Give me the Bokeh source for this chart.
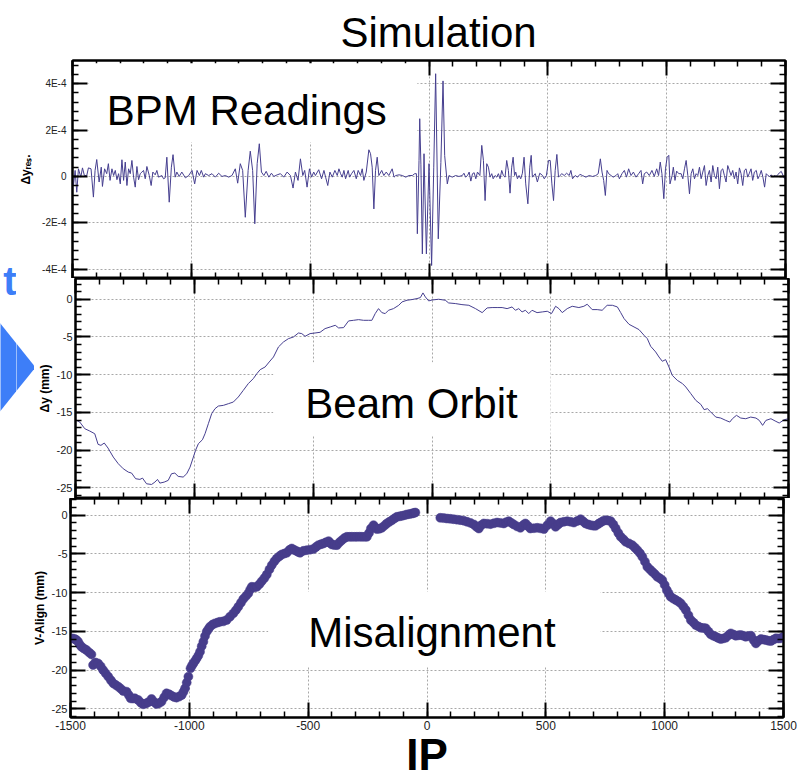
from bokeh.plotting import figure
from bokeh.layouts import column, row
from bokeh.models import (Range1d, LinearAxis, SingleIntervalTicker, BoxAnnotation, Label,
                          PolyAnnotation, CustomJSTickFormatter, PrintfTickFormatter)
from bokeh.embed import file_html
from bokeh.resources import INLINE

FONT = "Liberation Sans"
LINE_COLOR = "#463f8f"
DOT_COLOR = "#473d8b"
ACCENT = "#3d7ef8"

# ---------------- data ----------------
# Panel 1: BPM readings, residual dy in units of 1E-4
bpm_x = [
    -1500, -1496, -1489, -1482, -1475, -1465, -1458, -1450, -1440, -1433,
    -1422, -1412, -1405, -1398, -1388, -1379, -1374, -1365, -1356, -1349,
    -1342, -1334, -1327, -1320, -1313, -1306, -1299, -1292, -1285, -1278,
    -1271, -1264, -1257, -1250, -1243, -1236, -1229, -1222, -1215, -1208,
    -1201, -1194, -1187, -1177, -1169, -1162, -1152, -1145, -1138, -1124,
    -1117, -1110, -1103, -1093, -1084, -1077, -1068, -1061, -1051, -1040,
    -1025, -1011, -997, -986, -976, -966, -958, -948, -941, -927,
    -913, -899, -885, -871, -857, -843, -829, -815, -805, -794,
    -784, -773, -761, -752, -742, -733, -723, -714, -705, -695,
    -685, -674, -663, -653, -639, -625, -611, -597, -583, -572,
    -562, -551, -541, -531, -523, -513, -503, -494, -485, -478,
    -464, -452, -442, -435, -426, -417, -407, -396, -386, -379,
    -372, -365, -358, -351, -340, -334, -326, -316, -306, -298,
    -288, -281, -274, -264, -253, -246, -239, -232, -225, -218,
    -211, -199, -190, -180, -169, -155, -147, -140, -126, -112,
    -98, -84, -70, -60, -53, -49, -42, -39, -34, -28,
    -21, -11, 0, 11, 20, 28, 39, 50, 59, 66,
    77, 84, 98, 112, 126, 140, 147, 154, 162, 169,
    176, 183, 190, 197, 204, 214, 222, 229, 236, 243,
    250, 257, 264, 270, 278, 285, 292, 299, 306, 313,
    320, 327, 334, 341, 348, 354, 360, 365, 372, 379,
    386, 393, 400, 407, 416, 424, 430, 435, 447, 456,
    466, 478, 485, 494, 503, 510, 517, 524, 531, 538,
    545, 551, 559, 569, 579, 590, 597, 604, 615, 625,
    635, 646, 660, 674, 688, 702, 712, 721, 728, 735,
    742, 749, 756, 766, 775, 787, 794, 801, 812, 822,
    831, 840, 850, 860, 871, 882, 892, 899, 906, 916,
    927, 938, 948, 958, 966, 973, 980, 988, 995, 1002,
    1009, 1014, 1023, 1028, 1035, 1042, 1051, 1061, 1068, 1075,
    1082, 1089, 1096, 1103, 1110, 1117, 1124, 1131, 1138, 1145,
    1152, 1159, 1166, 1173, 1180, 1187, 1194, 1201, 1208, 1215,
    1222, 1229, 1236, 1243, 1250, 1257, 1264, 1271, 1278, 1285,
    1292, 1299, 1306, 1313, 1320, 1327, 1334, 1341, 1348, 1355,
    1362, 1369, 1377, 1384, 1391, 1398, 1405, 1412, 1419, 1426,
    1433, 1440, 1447, 1454, 1461, 1468, 1482, 1496, 1500,
]
bpm_dy_e4 = [
    0.0, -0.39, 0.26, -0.68, 0.33, -0.03, 0.37, 0.04, 0.04, 0.37,
    0.33, -0.89, 0.26, 0.73, -0.24, 0.40, -0.43, 0.33, 0.12, 0.55,
    -0.17, 0.33, 0.04, 0.26, -0.14, 0.12, -0.32, 0.72, -0.17, 0.62,
    -0.39, 0.33, 0.12, 0.69, -0.03, -0.46, 0.43, -0.14, 0.12, 0.19,
    0.26, -0.10, 0.43, 0.04, -0.39, 0.19, 0.07, 0.26, -0.03, 0.04,
    -0.10, -0.06, 0.83, -1.11, 0.40, 0.94, -0.03, 0.19, 0.0, 0.19,
    -0.06, 0.04, 0.26, -0.32, 0.26, 0.04, 0.26, -0.03, 0.12, 0.04,
    0.12, -0.03, 0.14, 0.0, 0.04, -0.03, 0.04, 0.33, -0.29, 0.55,
    0.26, -1.76, 0.26, 1.09, 0.26, -2.04, 0.55, 1.41, 0.19, 0.04,
    0.22, -0.03, 0.14, 0.0, 0.07, 0.12, -0.03, 0.19, 0.04, -0.50,
    0.19, -0.17, 0.76, 0.04, 0.26, -0.46, 0.33, -0.03, 0.19, 0.04,
    0.29, -0.10, 0.26, -0.03, -0.39, 0.19, -0.03, 0.26, 0.04, 0.33,
    0.12, -0.03, 0.26, -0.10, 0.26, -0.03, 0.12, 0.26, -0.10, 0.26,
    0.04, 0.33, -0.17, 0.19, 1.15, 0.98, 0.40, -1.40, 0.26, 0.83,
    0.04, 0.26, 0.04, 0.19, 0.04, 0.33, -0.03, 0.04, 0.07, 0.04,
    -0.03, 0.04, 0.04, 0.12, 0.12, -2.47, 0.69, 2.49, 0.5, -3.34,
    0.98, -3.34, 0.55, -3.84, 0.4, 4.43, -2.69, 0.6, 4.12, 0.9,
    -0.32, 0.04, -0.03, 0.04, 0.0, 0.04, 0.14, -0.03, 0.04, 0.19,
    -0.20, 0.12, 0.16, -0.10, 0.19, 0.04, 1.34, 0.69, -1.04, 0.55,
    0.40, -0.03, 0.12, -0.10, 0.04, -0.03, 0.12, -0.10, 0.26, 0.04,
    -0.03, 0.69, 0.26, -0.72, 0.40, 0.83, 0.04, 0.19, -0.10, 0.04,
    -0.10, 0.14, 0.83, -0.32, -1.18, 0.40, 0.91, -0.03, 0.12, -0.24,
    0.14, 0.04, -0.10, 0.04, 0.69, 0.69, -0.32, -1.04, 0.26, 0.95,
    -0.03, 0.04, 0.12, 0.04, 0.14, 0.04, 0.26, -0.10, 0.04, -0.03,
    0.09, 0.04, -0.03, 0.04, 0.0, 0.04, 0.12, 0.76, 0.19, -0.17,
    -0.82, 0.26, 0.12, 0.04, -0.03, 0.04, 0.12, -0.10, 0.12, 0.26,
    -0.03, 0.33, 0.04, 0.19, -0.03, 0.12, 0.26, -0.32, 0.12, 0.19,
    0.04, 0.26, 0.0, 0.33, 0.04, 0.62, 0.12, -0.96, 0.33, 0.83,
    0.91, -0.32, 0.04, 0.40, -0.17, 0.23, 0.12, 0.12, -0.10, 0.33,
    0.69, 0.04, -0.75, 0.12, 0.33, -0.10, 0.12, 0.04, 0.40, -0.10,
    0.19, 0.47, -0.39, 0.04, 0.26, -0.24, 0.47, 0.04, -0.10, 0.40,
    -0.53, 0.26, 0.33, 0.04, -0.24, 0.47, 0.26, 0.04, 0.26, -0.10,
    0.19, -0.32, 0.37, 0.12, -0.39, 0.26, 0.33, -0.03, 0.14, 0.33,
    -0.17, 0.19, 0.26, -0.10, 0.04, 0.26, -0.03, -0.46, 0.12, 0.04,
    0.0, 0.07, -0.03, 0.04, 0.0, 0.09, 0.22, -0.10, 0.04,
]
bpm_tick_values = [-4, -2, 0, 2, 4]
bpm_tick_labels = ["-4E-4", "-2E-4", "0", "2E-4", "4E-4"]

# Panel 2: beam orbit dy (mm)
orbit_x = [
    -1500, -1482, -1461, -1440, -1419, -1405, -1393, -1379, -1363, -1341,
    -1320, -1299, -1278, -1264, -1247, -1229, -1218, -1201, -1180, -1166,
    -1155, -1145, -1127, -1110, -1096, -1082, -1068, -1047, -1032, -1018,
    -1004, -995, -983, -966, -955, -941, -927, -913, -899, -878,
    -857, -836, -815, -794, -773, -752, -737, -723, -702, -685,
    -667, -646, -625, -604, -583, -562, -548, -534, -513, -492,
    -471, -450, -428, -407, -393, -372, -351, -330, -309, -288,
    -267, -253, -239, -225, -211, -197, -183, -162, -140, -126,
    -105, -84, -63, -49, -38, -28, -14, 0, 28, 56,
    70, 98, 126, 155, 183, 211, 232, 253, 274, 295,
    316, 337, 351, 365, 379, 393, 407, 421, 442, 464,
    485, 503, 520, 534, 548, 569, 590, 618, 639, 653,
    674, 695, 716, 737, 759, 780, 794, 808, 829, 850,
    871, 892, 906, 920, 941, 955, 969, 983, 997, 1011,
    1032, 1054, 1068, 1089, 1110, 1131, 1145, 1159, 1173, 1194,
    1215, 1236, 1253, 1264, 1281, 1299, 1320, 1341, 1363, 1377,
    1391, 1405, 1426, 1447, 1461, 1482, 1500,
]
orbit_dy = [
    -15.96, -16.27, -17.15, -17.46, -17.82, -19.23, -19.36, -19.05, -19.72, -20.91,
    -21.79, -22.46, -22.9, -23.03, -23.78, -23.87, -23.7, -24.45, -24.54, -24.23,
    -23.87, -24.36, -24.23, -24.0, -23.12, -23.03, -23.47, -23.56, -23.12, -22.24,
    -20.91, -20.03, -19.14, -18.62, -17.82, -16.49, -15.16, -14.5, -14.15, -14.06,
    -13.84, -13.62, -12.95, -12.07, -11.18, -10.52, -9.86, -9.33, -8.97, -8.31,
    -7.65, -6.32, -5.66, -5.22, -5.0, -4.47, -4.55, -4.91, -4.55, -4.47,
    -4.38, -3.89, -3.67, -3.45, -3.8, -3.76, -2.87, -2.79, -2.70, -2.79,
    -2.79, -2.79, -1.9, -1.24, -1.77, -1.9, -1.46, -1.24, -0.8, -0.35,
    -0.13, -0.04, 0.09, 0.22, 0.84, 0.31, -0.22, -0.1, 0.0, -0.13,
    -0.49, -0.57, -0.71, -0.8, -1.24, -1.77, -1.15, -1.1, -1.1, -1.1,
    -1.24, -1.02, -1.46, -1.24, -1.68, -1.46, -1.9, -1.46, -1.77, -1.68,
    -1.59, -1.9, -0.93, -1.24, -1.77, -1.24, -0.93, -1.1, -0.93, -0.66,
    -1.37, -1.37, -1.46, -0.8, -0.8, -1.02, -1.77, -2.56, -3.32, -3.67,
    -4.02, -4.77, -5.22, -6.23, -6.98, -7.65, -8.22, -8.0, -8.97, -10.08,
    -10.74, -11.18, -11.63, -12.51, -13.4, -13.93, -14.63, -14.5, -14.94, -15.61,
    -15.74, -16.05, -16.27, -15.83, -15.38, -15.74, -15.83, -15.61, -15.74, -16.05,
    -16.71, -16.05, -15.83, -16.18, -16.4, -15.96, -15.83,
]

# Panel 3: vertical misalignment (mm)
align_x = [
    -1500, -1491, -1482, -1475, -1468, -1461, -1454, -1444, -1433, -1422,
    -1412, -1405, -1395, -1384, -1373, -1363, -1352, -1341, -1330, -1320,
    -1310, -1299, -1288, -1278, -1264, -1255, -1247, -1238, -1229, -1215,
    -1204, -1194, -1183, -1173, -1159, -1148, -1138, -1127, -1117, -1106,
    -1096, -1085, -1075, -1064, -1054, -1043, -1032, -1025, -1018, -1011,
    -1004, -995, -989, -983, -976, -969, -962, -955, -948, -941,
    -934, -927, -920, -913, -902, -892, -881, -871, -857, -843,
    -829, -815, -804, -794, -783, -773, -762, -752, -744, -737,
    -726, -716, -705, -695, -684, -674, -663, -653, -642, -632,
    -621, -611, -600, -590, -579, -569, -558, -548, -541, -534,
    -520, -506, -492, -478, -467, -457, -446, -436, -425, -414,
    -407, -400, -390, -379, -368, -358, -347, -337, -326, -316,
    -305, -295, -284, -274, -263, -253, -244, -236, -225, -218,
    -211, -200, -190, -179, -169, -158, -147, -136, -126, -115,
    -105, -94, -84, -73, -63, -56, -49, 56, 70, 84,
    98, 112, 126, 140, 155, 169, 183, 197, 208, 218,
    228, 239, 253, 267, 281, 295, 309, 323, 333, 344,
    355, 365, 379, 393, 404, 414, 425, 435, 450, 464,
    478, 492, 506, 520, 531, 541, 552, 562, 576, 590,
    604, 618, 632, 646, 657, 667, 678, 688, 699, 709,
    720, 730, 741, 752, 763, 773, 784, 794, 805, 815,
    826, 836, 850, 864, 875, 885, 896, 906, 917, 927,
    938, 948, 959, 969, 980, 990, 1000, 1009, 1017, 1025,
    1036, 1047, 1058, 1068, 1079, 1089, 1100, 1110, 1121, 1131,
    1142, 1152, 1163, 1173, 1184, 1194, 1205, 1215, 1226, 1236,
    1247, 1257, 1268, 1278, 1289, 1299, 1310, 1320, 1331, 1341,
    1352, 1363, 1374, 1384, 1395, 1405, 1416, 1426, 1437, 1447,
    1458, 1468, 1479, 1489, 1500,
]
align_dy = [
    -15.89, -15.9, -15.98, -16.1, -16.32, -16.7, -16.97, -17.2, -17.4, -17.7,
    -17.96, -19.33, -19.0, -19.12, -19.5, -19.97, -20.4, -20.83, -21.3, -21.69,
    -21.9, -22.12, -22.4, -22.68, -22.77, -23.2, -23.63, -23.65, -23.63, -23.84,
    -24.2, -24.4, -24.3, -24.14, -23.71, -24.1, -24.36, -24.25, -24.05, -23.5,
    -22.98, -23.1, -23.28, -23.45, -23.54, -23.4, -23.2, -22.8, -22.34, -21.6,
    -20.83, -19.76, -19.4, -19.12, -18.8, -18.47, -18.1, -17.61, -16.9, -16.32,
    -15.6, -15.03, -14.7, -14.39, -14.1, -13.96, -13.85, -13.75, -13.7, -13.53,
    -13.1, -12.67, -12.25, -11.81, -11.3, -10.82, -10.45, -10.09, -9.6, -9.24,
    -9.3, -9.24, -8.9, -8.51, -8.1, -7.65, -7.0, -6.44, -5.95, -5.58,
    -5.3, -5.07, -4.95, -4.85, -4.5, -4.3, -4.5, -4.64, -4.75, -4.85,
    -4.6, -4.51, -4.45, -4.38, -4.1, -3.87, -3.75, -3.65, -3.5, -3.35,
    -3.6, -3.78, -3.85, -3.87, -3.5, -3.22, -2.95, -2.79, -2.8, -2.79,
    -2.8, -2.79, -2.78, -2.79, -2.8, -2.79, -2.3, -1.72, -1.29, -1.6,
    -1.8, -1.75, -1.63, -1.35, -1.07, -0.85, -0.64, -0.4, -0.21, -0.15,
    -0.09, 0.0, 0.09, 0.15, 0.21, 0.28, 0.34, -0.34, -0.38, -0.43,
    -0.47, -0.52, -0.58, -0.64, -0.72, -0.86, -1.0, -1.2, -1.5, -1.72,
    -1.3, -1.07, -1.1, -1.16, -1.05, -0.95, -1.0, -1.07, -0.9, -0.77,
    -1.0, -1.2, -1.45, -1.63, -1.3, -1.07, -1.4, -1.72, -1.68, -1.63,
    -1.7, -1.8, -1.3, -0.77, -1.1, -1.5, -1.2, -0.95, -0.85, -0.77,
    -0.85, -0.95, -0.75, -0.52, -0.8, -1.07, -1.2, -1.29, -1.35, -1.37,
    -1.15, -0.95, -0.75, -0.64, -0.7, -0.77, -1.2, -1.72, -2.3, -2.79,
    -3.1, -3.44, -3.65, -3.87, -4.2, -4.51, -4.9, -5.37, -6.0, -6.66,
    -7.0, -7.3, -7.6, -7.95, -8.15, -8.38, -9.0, -9.66, -10.1, -10.52,
    -10.75, -10.95, -11.15, -11.38, -11.8, -12.24, -12.9, -13.53, -13.85, -14.18,
    -14.35, -14.52, -14.55, -14.6, -15.0, -15.38, -15.55, -15.68, -15.85, -15.98,
    -15.9, -15.81, -15.5, -15.25, -15.4, -15.55, -15.5, -15.46, -15.55, -15.68,
    -15.6, -15.55, -16.1, -16.54, -16.2, -15.98, -16.05, -16.11, -16.2, -16.24,
    -16.05, -15.89, -15.9, -15.89, -15.68,
]

X_RANGE = (-1500, 1500)
X_MAJOR = 500


# ---------------- helpers ----------------
def ticker(interval):
    return SingleIntervalTicker(interval=interval, num_minor_ticks=5)


def style_axis(ax, show_labels, label_size="11px", standoff=4):
    ax.axis_line_color = "black"
    ax.axis_line_width = 2
    ax.major_tick_in = 15
    ax.major_tick_out = 0
    ax.minor_tick_in = 6
    ax.minor_tick_out = 0
    ax.major_tick_line_color = "black"
    ax.major_tick_line_width = 2
    ax.minor_tick_line_color = "black"
    ax.minor_tick_line_width = 1.5
    ax.major_label_text_font = FONT
    ax.major_label_text_color = "#222222"
    if show_labels:
        ax.formatter = PrintfTickFormatter(format="%d")
        ax.major_label_text_font_size = label_size
        ax.major_label_standoff = standoff
    else:
        ax.formatter = CustomJSTickFormatter(code="return ''")
        ax.major_label_text_font_size = "0px"
        ax.major_label_standoff = 0


def make_panel(y_range, frame_h, top, bottom, left, y_int, y_label, y_label_size,
               tick_standoff, label_standoff, show_x_labels, title=None):
    p = figure(width=left + 713 + 17, height=top + frame_h + bottom,
               frame_width=713, frame_height=frame_h,
               x_range=Range1d(*X_RANGE), y_range=Range1d(*y_range), title=title,
               toolbar_location=None, output_backend="svg",
               min_border_left=left, min_border_right=17,
               min_border_top=top, min_border_bottom=bottom)
    p.outline_line_color = "black"
    p.outline_line_width = 2
    p.background_fill_color = "white"
    p.border_fill_color = "white"

    xt = ticker(X_MAJOR)
    yt = ticker(y_int)
    bottom_ax = p.xaxis[0]
    left_ax = p.yaxis[0]
    bottom_ax.ticker = xt
    left_ax.ticker = yt
    p.xgrid.ticker = xt
    p.ygrid.ticker = yt
    for g in (p.xgrid, p.ygrid):
        g.grid_line_color = "#a8a8a8"
        g.grid_line_dash = "2 2"
        g.grid_line_width = 1

    style_axis(bottom_ax, show_x_labels, "12px", 3)
    style_axis(left_ax, True, y_label_size, tick_standoff)
    left_ax.axis_label = y_label
    left_ax.axis_label_text_font = FONT
    left_ax.axis_label_text_font_size = "12px"
    left_ax.axis_label_text_font_style = "bold"
    left_ax.axis_label_text_color = "black"
    left_ax.axis_label_standoff = label_standoff

    top_ax = LinearAxis(ticker=ticker(X_MAJOR))
    style_axis(top_ax, False)
    p.add_layout(top_ax, "above")
    right_ax = LinearAxis(ticker=ticker(y_int))
    style_axis(right_ax, False)
    p.add_layout(right_ax, "right")
    return p, left_ax, bottom_ax


def text_label(p, x, y, text):
    p.add_layout(Label(x=x, y=y, text=text, text_font=FONT, text_font_size="42px",
                       text_color="black", text_baseline="alphabetic"))


def white_box(p, left, right, bottom, top):
    p.add_layout(BoxAnnotation(left=left, right=right, bottom=bottom, top=top,
                               fill_color="white", fill_alpha=1.0, line_color=None))


def deco_strip(x0, x1, page_top, page_bottom):
    # blank strip at the left edge; its ranges follow page pixels (y downwards)
    d = figure(width=x1 - x0, height=page_bottom - page_top,
               x_range=Range1d(x0, x1), y_range=Range1d(page_bottom, page_top),
               x_axis_location=None, y_axis_location=None, title=None,
               toolbar_location=None, output_backend="svg", min_border=0)
    d.outline_line_color = None
    d.grid.visible = False
    d.background_fill_color = "white"
    d.border_fill_color = "white"
    return d


def arrow(d):
    d.add_layout(PolyAnnotation(xs=[-20, 35, -20], ys=[298, 367, 435],
                                fill_color=ACCENT, fill_alpha=1.0, line_color=None))


# ---------------- panel 1: BPM readings ----------------
p1, ax1, _ = make_panel((-4.4, 5.0), 218, 60, 0, 54, 2, "Δyᵣₑₛ.", "10px", 6, 6, False,
                        title="Simulation")
ax1.formatter = CustomJSTickFormatter(code="return tick.toString()")
ax1.major_label_overrides = dict(zip(bpm_tick_values, bpm_tick_labels))
p1.title.text_font = FONT
p1.title.text_font_size = "42px"
p1.title.text_font_style = "normal"
p1.title.text_color = "black"
p1.title.align = "left"
p1.title.offset = 268
p1.title.standoff = 10
p1.line(bpm_x, bpm_dy_e4, line_color=LINE_COLOR, line_width=1)
white_box(p1, -1431, -49, 1.47, 4.88)
text_label(p1, -1356, 2.85, "BPM Readings")

# ---------------- panel 2: beam orbit ----------------
p2, ax2, _ = make_panel((-26.4, 2.75), 220, 0, 0, 36, 5, "Δy (mm)", "11px", 3, 2, False)
p2.line(orbit_x, orbit_dy, line_color=LINE_COLOR, line_width=1)
white_box(p2, -668, 499, -18.04, -8.36)
text_label(p2, -533, -13.8, "Beam Orbit")

# ---------------- panel 3: misalignment ----------------
p3, ax3, bx3 = make_panel((-26.1, 2.15), 219, 0, 63, 70, 5, "V-Align (mm)", "11px", 3, 2, True)
p3.scatter(align_x, align_dy, size=9, fill_color=DOT_COLOR, line_color=DOT_COLOR, line_width=0.5)
white_box(p3, -668, 730, -19.55, -9.88)
text_label(p3, -500, -15.17, "Misalignment")
bx3.axis_label = "IP"
bx3.axis_label_text_font = FONT
bx3.axis_label_text_font_size = "44px"
bx3.axis_label_text_font_style = "bold"
bx3.axis_label_text_color = "black"
bx3.axis_label_standoff = -3

# ---------------- left-edge decorations: blue arrow and cut-off "t" ----------------
d_left = deco_strip(0, 16, 0, 498)      # beside panels 1 and 2
d_left.add_layout(Label(x=16, y=280, text="t", text_font=FONT, text_font_size="40px",
                        text_font_style="bold", text_color=ACCENT,
                        text_align="right", text_baseline="alphabetic"))
arrow(d_left)
d_tip = deco_strip(16, 34, 278, 498)    # beside panel 2 only
arrow(d_tip)

right_block = column(p1, row(d_tip, p2, spacing=0), spacing=0)
layout = column(row(d_left, right_block, spacing=0), p3, spacing=0)
with open("out.html", "w", encoding="utf-8") as f:
    f.write(file_html(layout, INLINE))
